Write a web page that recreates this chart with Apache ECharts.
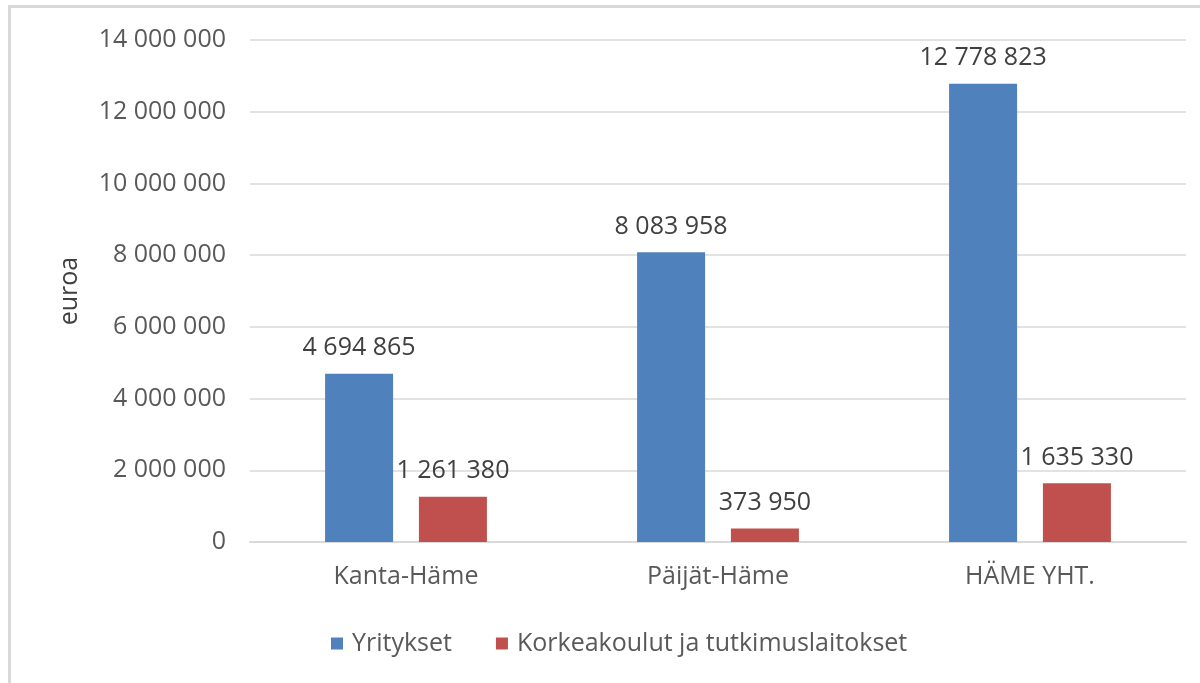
<!DOCTYPE html>
<html>
<head>
<meta charset="utf-8">
<script src="https://cdn.jsdelivr.net/npm/echarts@6/dist/echarts.min.js"></script>
<style>
  html, body { margin: 0; padding: 0; background: #fff; }
  #main { width: 1200px; height: 683px; }
  #frame {
    position: absolute; left: 8px; top: 5px; width: 1200px; height: 700px;
    border-left: 3px solid #d9d9d9; border-top: 3px solid #d9d9d9;
    pointer-events: none;
  }
</style>
</head>
<body>
<div id="main"></div>
<div id="frame"></div>
<script>
// alueet
var categories = ['Kanta-Häme', 'Päijät-Häme', 'HÄME YHT.'];
// euroa
var yritykset = [4694865, 8083958, 12778823];
var korkeakoulut = [1261380, 373950, 1635330];
var seriesNames = ['Yritykset', 'Korkeakoulut ja tutkimuslaitokset'];

var fontFam = '"Open Sans", "Noto Sans", sans-serif';
var fs = 25;

function fmt(v) {
  return String(v).replace(/\B(?=(\d{3})+(?!\d))/g, ' ');
}

var myChart = echarts.init(document.getElementById('main'));

var labelStyle = {
  show: true,
  position: 'top',
  distance: 13,
  fontSize: fs,
  fontFamily: fontFam,
  color: '#404040',
  formatter: function (p) { return fmt(p.value); }
};

option = {
  animation: false,
  textStyle: { fontFamily: fontFam },
  grid: { left: 250, right: 14, top: 40, bottom: 141 },
  legend: {
    left: 326,
    top: 626,
    icon: 'rect',
    itemWidth: 12,
    itemHeight: 12,
    itemGap: 44,
    textStyle: { fontSize: fs, color: '#595959', fontFamily: fontFam, padding: [0, 0, 0, 4] },
    data: seriesNames
  },
  xAxis: {
    type: 'category',
    data: categories,
    axisTick: { show: false },
    axisLine: { lineStyle: { color: '#d9d9d9', width: 2 } },
    axisLabel: { fontSize: fs, color: '#595959', margin: 22, fontFamily: fontFam }
  },
  yAxis: {
    type: 'value',
    min: 0,
    max: 14000000,
    interval: 2000000,
    name: 'euroa',
    nameLocation: 'middle',
    nameGap: 168,
    nameTextStyle: { fontSize: fs, color: '#404040', fontFamily: fontFam },
    axisLabel: {
      fontSize: fs, color: '#595959', margin: 24, fontFamily: fontFam,
      formatter: function (v) { return fmt(v); }
    },
    splitLine: { lineStyle: { color: '#d9d9d9', width: 1.5 } }
  },
  series: [
    {
      name: seriesNames[0],
      type: 'bar',
      data: yritykset,
      barWidth: 68,
      barGap: '38%',
      itemStyle: { color: '#4f81bd' },
      label: labelStyle
    },
    {
      name: seriesNames[1],
      type: 'bar',
      data: korkeakoulut,
      barWidth: 68,
      barGap: '38%',
      itemStyle: { color: '#c0504d' },
      label: labelStyle
    }
  ]
};

myChart.setOption(option);
</script>
</body>
</html>
